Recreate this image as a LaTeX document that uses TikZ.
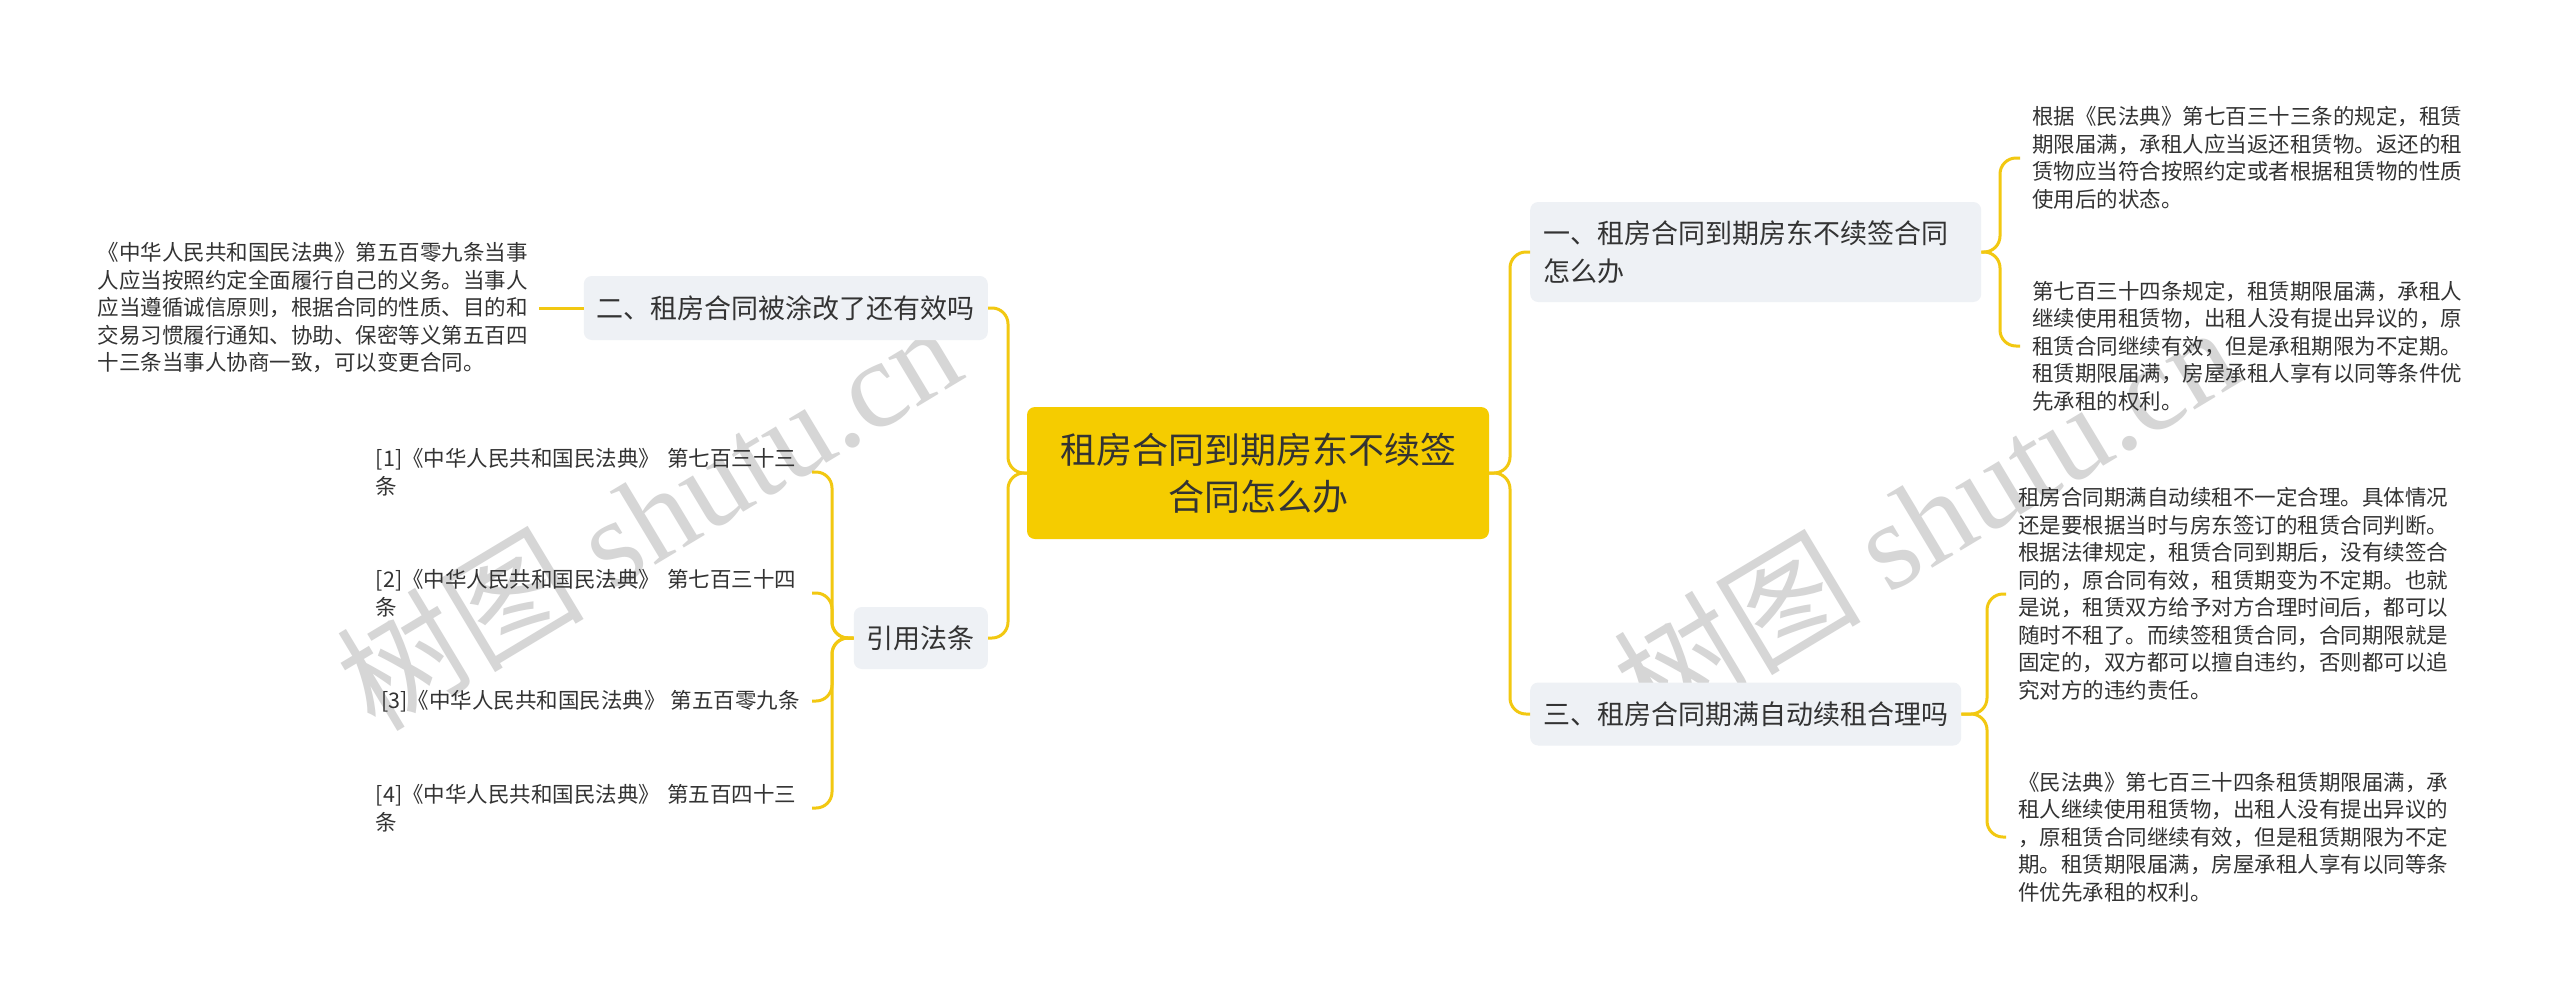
\documentclass[tikz,border=0pt]{standalone}
\usepackage{fontspec}
\setmainfont{Noto Sans CJK SC}
\newfontfamily\wmlat{Liberation Serif}
\definecolor{conn}{HTML}{F2C811}
\definecolor{rootfill}{HTML}{F5CC00}
\definecolor{branchfill}{HTML}{EEF1F5}
\definecolor{txt}{HTML}{333333}
\definecolor{wm}{HTML}{D6D6D6}
\begin{document}
\begin{tikzpicture}[x=1pt,y=-1pt,
  connector/.style={draw=conn, line width=3pt, rounded corners=16pt},
  rootbox/.style={fill=rootfill, rounded corners=8pt, text=txt, align=center, font=\fontsize{36pt}{47pt}\selectfont, minimum width=462pt, minimum height=132pt, inner sep=0pt},
  branchbox/.style={fill=branchfill, rounded corners=8pt, text=txt, align=left, font=\fontsize{27pt}{37.5pt}\selectfont, inner xsep=13pt, inner ysep=0pt, minimum height=63pt},
  leaftext/.style={text=txt, align=left, font=\fontsize{21.5pt}{27.5pt}\selectfont, inner xsep=12pt, inner ysep=2pt},
  watermark/.style={text=wm, font=\fontsize{124pt}{124pt}\selectfont, rotate=31, inner sep=0pt}
]
\useasboundingbox[fill=white] (0,0) rectangle (2560,1007);

% watermarks
\node[watermark] (wm1) at (648,515) {树图 {\wmlat shutu.cn}};
\node[watermark] (wm2) at (1925,518) {树图 {\wmlat shutu.cn}};

% root and branches
\node[rootbox] (root) at (1258,473) {租房合同到期房东不续签\\合同怎么办};
\node[branchbox, anchor=west, text width=425pt, minimum height=100pt] (b1) at (1530,252) {一、租房合同到期房东不续签合同\\怎么办};
\node[branchbox, anchor=west] (b3) at (1530,714) {三、租房合同期满自动续租合理吗};
\node[branchbox, anchor=east, minimum height=64pt] (b2) at (988,308) {二、租房合同被涂改了还有效吗};
\node[branchbox, anchor=east, minimum height=62pt] (b4) at (988,638) {引用法条};

% leaves
\node[leaftext, anchor=west] (l1) at (2020,158) {根据《民法典》第七百三十三条的规定，租赁\\期限届满，承租人应当返还租赁物。返还的租\\赁物应当符合按照约定或者根据租赁物的性质\\使用后的状态。};
\node[leaftext, anchor=west] (l2) at (2020,346) {第七百三十四条规定，租赁期限届满，承租人\\继续使用租赁物，出租人没有提出异议的，原\\租赁合同继续有效，但是承租期限为不定期。\\租赁期限届满，房屋承租人享有以同等条件优\\先承租的权利。};
\node[leaftext, anchor=west] (l3) at (2006,594) {租房合同期满自动续租不一定合理。具体情况\\还是要根据当时与房东签订的租赁合同判断。\\根据法律规定，租赁合同到期后，没有续签合\\同的，原合同有效，租赁期变为不定期。也就\\是说，租赁双方给予对方合理时间后，都可以\\随时不租了。而续签租赁合同，合同期限就是\\固定的，双方都可以擅自违约，否则都可以追\\究对方的违约责任。};
\node[leaftext, anchor=west] (l4) at (2006,837) {《民法典》第七百三十四条租赁期限届满，承\\租人继续使用租赁物，出租人没有提出异议的\\，原租赁合同继续有效，但是租赁期限为不定\\期。租赁期限届满，房屋承租人享有以同等条\\件优先承租的权利。};
\node[leaftext, anchor=east, inner xsep=11pt] (lL) at (539,308) {《中华人民共和国民法典》第五百零九条当事\\人应当按照约定全面履行自己的义务。当事人\\应当遵循诚信原则，根据合同的性质、目的和\\交易习惯履行通知、协助、保密等义第五百四\\十三条当事人协商一致，可以变更合同。};

\node[leaftext, anchor=east, text width=424pt] (r1) at (812,472) {[1]《中华人民共和国民法典》 第七百三十三\\条};
\node[leaftext, anchor=east, text width=424pt] (r2) at (812,593) {[2]《中华人民共和国民法典》 第七百三十四\\条};
\node[leaftext, anchor=east] (r3) at (812,701) {[3]《中华人民共和国民法典》 第五百零九条};
\node[leaftext, anchor=east, text width=424pt] (r4) at (812,808) {[4]《中华人民共和国民法典》 第五百四十三\\条};

% trunk points
\coordinate (tRL) at (1008,473);
\coordinate (tRR) at (1510,473);
\coordinate (tB1) at (2000,252);
\coordinate (tB3) at (1987,714);
\coordinate (tB4) at (832,638);

% connectors
\draw[connector] (root.west) -- (tRL) |- (b2.east);
\draw[connector] (root.west) -- (tRL) |- (b4.east);
\draw[connector] (root.east) -- (tRR) |- (b1.west);
\draw[connector] (root.east) -- (tRR) |- (b3.west);
\draw[connector] (b1.east) -- (tB1) |- (l1.west);
\draw[connector] (b1.east) -- (tB1) |- (l2.west);
\draw[connector] (b3.east) -- (tB3) |- (l3.west);
\draw[connector] (b3.east) -- (tB3) |- (l4.west);
\draw[connector] (b4.west) -- (tB4) |- (r1.east);
\draw[connector] (b4.west) -- (tB4) |- (r2.east);
\draw[connector] (b4.west) -- (tB4) |- (r3.east);
\draw[connector] (b4.west) -- (tB4) |- (r4.east);
\draw[connector] (b2.west) -- (lL.east);
\end{tikzpicture}
\end{document}
